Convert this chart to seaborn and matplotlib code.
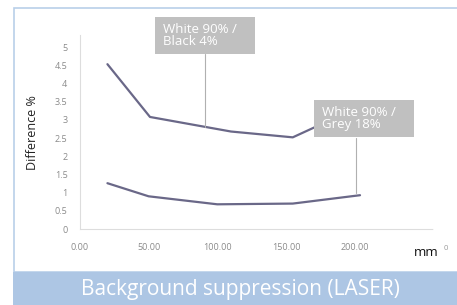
import pandas as pd
import matplotlib.pyplot as plt
import seaborn as sns
from matplotlib.patches import Rectangle

# data
dist_black = [20, 51, 110, 155, 200]
diff_black = [4.53, 3.08, 2.68, 2.52, 3.3]
dist_grey = [20, 50, 100, 155, 204]
diff_grey = [1.26, 0.90, 0.68, 0.70, 0.93]
x_ticks = [0, 50, 100, 150, 200]
y_ticks = [0, 0.5, 1, 1.5, 2, 2.5, 3, 3.5, 4, 4.5, 5]
y_labels = ["0", "0.5", "1", "1.5", "2", "2.5", "3", "3.5", "4", "4.5", "5"]

df = pd.concat([
    pd.DataFrame({"mm": dist_black, "diff": diff_black, "pair": "White 90% / Black 4%"}),
    pd.DataFrame({"mm": dist_grey, "diff": diff_grey, "pair": "White 90% / Grey 18%"}),
])

sns.set_style("white")
plt.rcParams["font.family"] = ["Open Sans", "DejaVu Sans"]

fig = plt.figure(figsize=(4.57, 3.05), dpi=100)
ax = fig.add_axes([0.175, 0.249, 0.772, 0.636])

line_col = "#6a6888"
sns.lineplot(data=df, x="mm", y="diff", hue="pair", palette=[line_col, line_col],
             linewidth=1.6, legend=False, ax=ax, sort=False)

ax.set_xlim(0, 257)
ax.set_ylim(0, 5.33)
ax.set_xticks(x_ticks)
ax.set_xticklabels([f"{v:.2f}" for v in x_ticks], fontsize=6.5, color="#8a8a8a")
ax.set_yticks(y_ticks)
ax.set_yticklabels(y_labels, fontsize=6.5, color="#8a8a8a")
ax.tick_params(axis="x", length=0, pad=10)
ax.tick_params(axis="y", length=0, pad=9)
ax.set_xlabel("")
ax.set_ylabel("Difference %", fontsize=9, color="#222222", labelpad=11)
for s in ["top", "right"]:
    ax.spines[s].set_visible(False)
for s in ["left", "bottom"]:
    ax.spines[s].set_color("#dddddd")
    ax.spines[s].set_linestyle((0, (1, 1)))
    ax.spines[s].set_linewidth(0.8)

# unit label, with the clipped tail of the next tick label behind it
fig.text(414 / 457, 1 - 253 / 305, "mm", fontsize=9.5, color="#111111",
         ha="left", va="center")
fig.text(444 / 457, 1 - 249 / 305, "0", fontsize=5.5, color="#9a9a9a",
         ha="left", va="center")

# leader lines
ax.plot([91.2, 91.2], [4.8, 2.8], color="#b0b0b0", lw=0.8)
ax.plot([201, 201], [2.5, 0.98], color="#b0b0b0", lw=0.8)

# callout boxes
box_col = "#c0c0c0"
for (x0, y0), txt in [((155, 17), "White 90% /\nBlack 4%"),
                      ((314, 100), "White 90% /\nGrey 18%")]:
    fig.patches.append(Rectangle((x0 / 457, 1 - (y0 + 37) / 305), 100 / 457, 37 / 305,
                                 transform=fig.transFigure, facecolor=box_col,
                                 edgecolor="none", zorder=5))
    fig.text((x0 + 8) / 457, 1 - (y0 + 18.5) / 305, txt, fontsize=9.5, color="white",
             ha="left", va="center", linespacing=0.95, zorder=6)

# frame and bottom banner
fig.patches.append(Rectangle((14 / 457, 33 / 305), 1, 264 / 305, transform=fig.transFigure,
                             fill=False, edgecolor="#b9cfe9", linewidth=1.2))
fig.patches.append(Rectangle((13 / 457, 0), 444 / 457, 33 / 305, transform=fig.transFigure,
                             facecolor="#adc6e4", edgecolor="none"))
fig.text(240 / 457, 15 / 305, "Background suppression (LASER)", fontsize=15,
         color="white", ha="center", va="center")

plt.savefig("out.png", dpi=100)
